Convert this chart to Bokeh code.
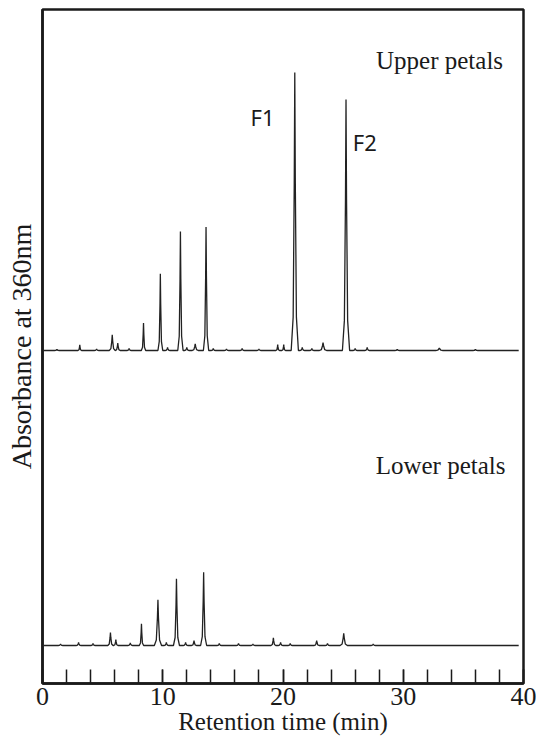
from bokeh.plotting import figure
from bokeh.models import Range1d, SingleIntervalTicker, FixedTicker, Label
from bokeh.embed import file_html
from bokeh.resources import INLINE

# ---- data (retention time in min, absorbance in arbitrary units) ----
upper_t = [1.2, 3.1, 4.5, 5.8, 6.26, 7.2, 8.4, 9.8, 10.4, 11.47, 12.0, 12.7, 13.6, 14.2, 15.3,
           16.6, 18.0, 19.56, 20.06, 20.98, 21.6, 22.4, 23.33, 25.24, 26.0, 27.0, 29.5, 33.0, 36.0]
upper_h = [1, 5.7, 1.5, 15.7, 7.4, 2, 27.4, 76.7, 3, 119, 3, 6.7, 123.4, 2, 1.5,
           2, 1.5, 6, 6, 278, 3, 2, 8, 251, 2, 3, 1, 2.5, 1]
upper_w = [0.2, 0.15, 0.2, 0.25, 0.2, 0.2, 0.18, 0.2, 0.2, 0.22, 0.2, 0.25, 0.22, 0.2, 0.2,
           0.2, 0.2, 0.15, 0.15, 0.3, 0.2, 0.2, 0.3, 0.3, 0.2, 0.2, 0.2, 0.3, 0.2]

lower_t = [1.5, 3.0, 4.2, 5.65, 6.1, 7.3, 8.23, 9.6, 10.3, 11.14, 11.9, 12.6, 13.4, 14.7, 16.3,
           17.5, 19.2, 19.8, 20.6, 22.8, 23.7, 25.05, 27.5]
lower_h = [1.5, 3, 2, 13, 6, 2.5, 21.7, 45.7, 3, 66.7, 3, 5, 73.3, 2, 2,
           1.5, 7.7, 3, 2, 5, 2, 12.3, 1.5]
lower_w = [0.2, 0.2, 0.2, 0.22, 0.18, 0.2, 0.18, 0.3, 0.2, 0.25, 0.2, 0.2, 0.25, 0.2, 0.2,
           0.2, 0.2, 0.2, 0.2, 0.2, 0.2, 0.3, 0.2]

upper_offset = 295
t_start, t_end = 0.1, 39.6

x_ticks_interval = 10
x_label = "Retention time (min)"
y_label = "Absorbance at 360nm"

INK = "#1a1a1a"


def trace(ts, hs, ws, offset, t0, t1):
    fr_x = [-1.0, -0.45, -0.15, 0.0, 0.15, 0.45, 1.0]
    fr_y = [0.0, 0.12, 0.6, 1.0, 0.6, 0.12, 0.0]
    xs, ys = [t0], [offset]
    for t, h, w in zip(ts, hs, ws):
        for fx, fy in zip(fr_x, fr_y):
            xs.append(t + fx * w)
            ys.append(offset + fy * h)
    xs.append(t1)
    ys.append(offset)
    return xs, ys


p = figure(width=536, height=739, output_backend="svg", toolbar_location=None,
           x_range=Range1d(0, 40), y_range=Range1d(-38, 636),
           min_border_left=42, min_border_right=13, min_border_top=9, min_border_bottom=56)
p.grid.visible = False
p.background_fill_color = "white"
p.border_fill_color = "white"
p.outline_line_color = INK
p.outline_line_width = 2.5

ux, uy = trace(upper_t, upper_h, upper_w, upper_offset, t_start, t_end)
lx, ly = trace(lower_t, lower_h, lower_w, 0, t_start, t_end)
p.line(ux, uy, line_color="#222222", line_width=1.3)
p.line(lx, ly, line_color="#222222", line_width=1.3)

xa = p.xaxis[0]
xa.ticker = SingleIntervalTicker(interval=x_ticks_interval, num_minor_ticks=5)
xa.major_tick_in = 14
xa.major_tick_out = 0
xa.minor_tick_in = 14
xa.minor_tick_out = 0
xa.major_tick_line_width = 1.5
xa.minor_tick_line_width = 1.5
xa.major_tick_line_color = INK
xa.minor_tick_line_color = INK
xa.axis_line_width = 2.5
xa.axis_line_color = INK
xa.major_label_text_font = "Liberation Serif"
xa.major_label_text_font_size = "26px"
xa.major_label_text_color = INK
xa.major_label_standoff = 4
xa.axis_label = x_label
xa.axis_label_text_font = "Liberation Serif"
xa.axis_label_text_font_size = "25px"
xa.axis_label_text_font_style = "normal"
xa.axis_label_text_color = INK
xa.axis_label_standoff = 0

ya = p.yaxis[0]
ya.ticker = FixedTicker(ticks=[])
ya.axis_line_width = 2.5
ya.axis_line_color = INK
ya.axis_label = y_label
ya.axis_label_text_font = "Liberation Serif"
ya.axis_label_text_font_size = "28px"
ya.axis_label_text_font_style = "normal"
ya.axis_label_text_color = INK
ya.axis_label_standoff = 6

p.add_layout(Label(x=38.3, y=585, text="Upper petals", text_align="right",
                   text_baseline="alphabetic", text_font="Liberation Serif",
                   text_font_size="25px", text_color=INK))
p.add_layout(Label(x=38.5, y=180, text="Lower petals", text_align="right",
                   text_baseline="alphabetic", text_font="Liberation Serif",
                   text_font_size="25px", text_color=INK))
p.add_layout(Label(x=17.3, y=529, text="F1", text_align="left",
                   text_baseline="alphabetic", text_font="Noto Sans",
                   text_font_size="22px", text_color=INK))
p.add_layout(Label(x=25.8, y=504, text="F2", text_align="left",
                   text_baseline="alphabetic", text_font="Noto Sans",
                   text_font_size="22px", text_color=INK))

open("out.html", "w").write(file_html(p, INLINE))
